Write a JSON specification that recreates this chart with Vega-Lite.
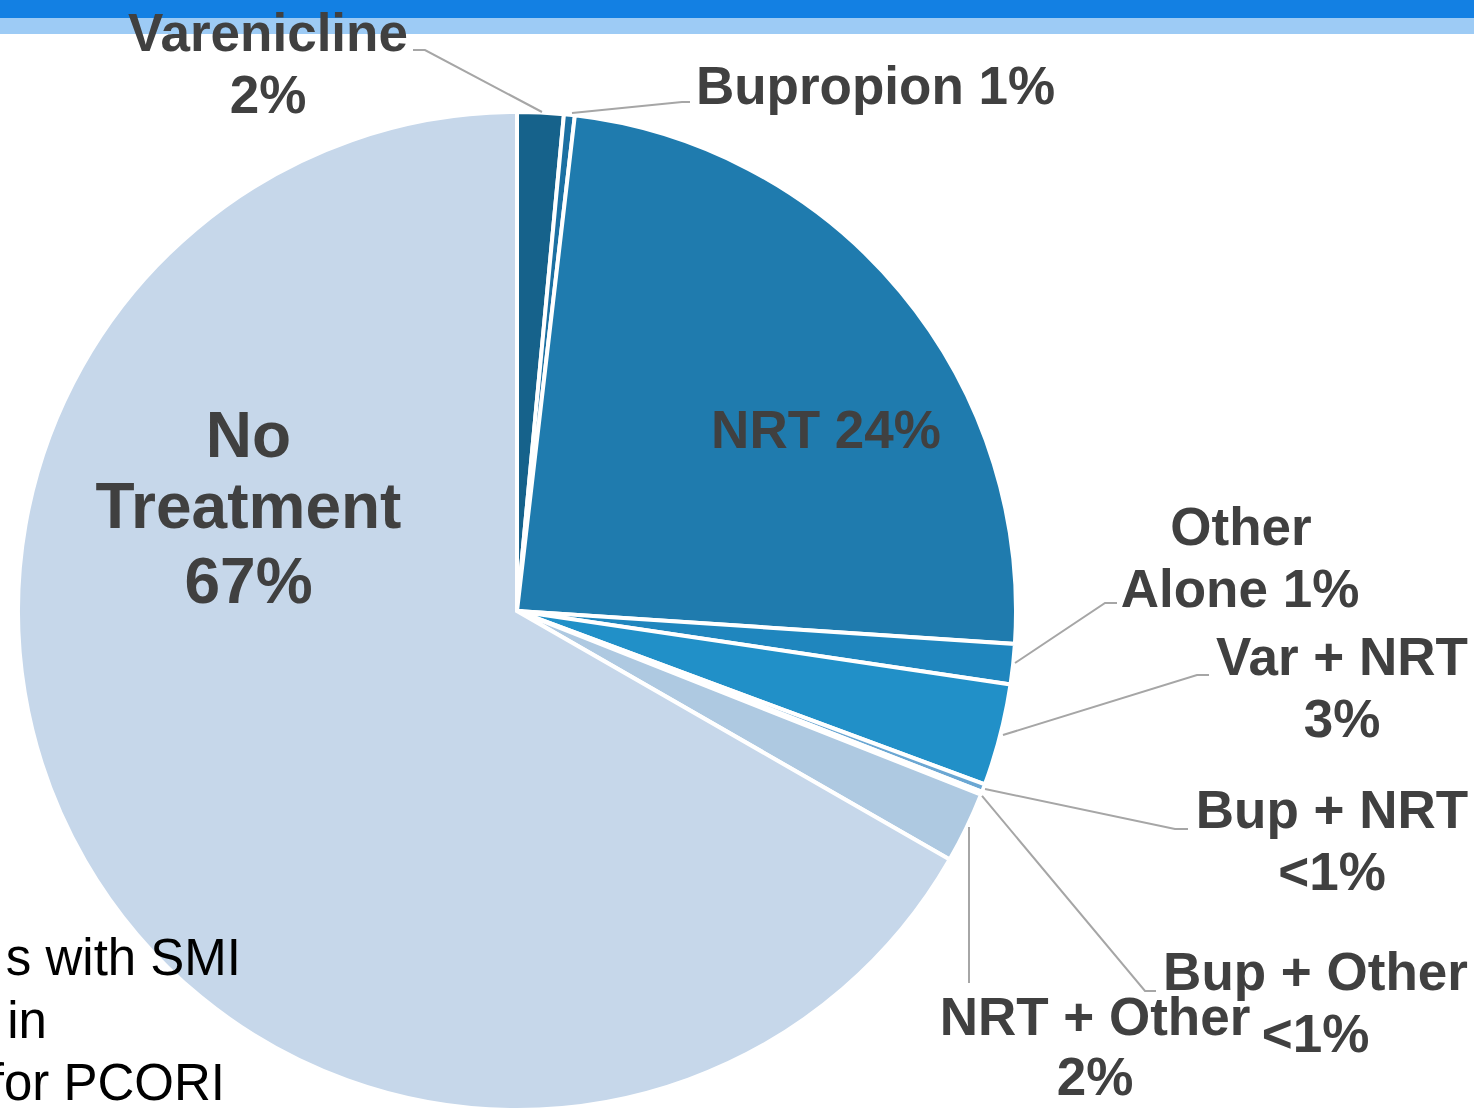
{
  "$schema": "https://vega.github.io/schema/vega-lite/v6.json",
  "width": 1474,
  "height": 1110,
  "padding": 0,
  "autosize": {"type": "none"},
  "background": "#ffffff",
  "config": {"view": {"stroke": null}},
  "datasets": {
    "slices": [
      {"slice": "Varenicline", "pct": 1.5, "k": 1},
      {"slice": "Bupropion", "pct": 0.35, "k": 2},
      {"slice": "NRT", "pct": 24.2, "k": 3},
      {"slice": "Other Alone", "pct": 1.3, "k": 4},
      {"slice": "Var + NRT", "pct": 3.3, "k": 5},
      {"slice": "Bup + NRT", "pct": 0.25, "k": 6},
      {"slice": "Bup + Other", "pct": 0.1, "k": 7},
      {"slice": "NRT + Other", "pct": 2.3, "k": 8},
      {"slice": "No Treatment", "pct": 66.7, "k": 9}
    ],
    "bands": [
      {"band": "dark", "x1": -1.03607, "x2": 1.91784, "y1": 1.22445, "y2": 1.1884},
      {"band": "light", "x1": -1.03607, "x2": 1.91784, "y1": 1.1884, "y2": 1.1563}
    ],
    "leaders": [
      {"id": "Varenicline", "k": 1, "x": -0.2084, "y": 1.1242},
      {"id": "Varenicline", "k": 2, "x": -0.1844, "y": 1.1242},
      {"id": "Varenicline", "k": 3, "x": 0.0501, "y": 1.0},
      {"id": "Bupropion", "k": 1, "x": 0.3467, "y": 1.02},
      {"id": "Bupropion", "k": 2, "x": 0.3307, "y": 1.02},
      {"id": "Bupropion", "k": 3, "x": 0.1102, "y": 0.998},
      {"id": "Other Alone", "k": 1, "x": 1.2024, "y": 0.016},
      {"id": "Other Alone", "k": 2, "x": 1.1784, "y": 0.016},
      {"id": "Other Alone", "k": 3, "x": 0.998, "y": -0.1042},
      {"id": "Var + NRT", "k": 1, "x": 1.3868, "y": -0.1283},
      {"id": "Var + NRT", "k": 2, "x": 1.3627, "y": -0.1283},
      {"id": "Var + NRT", "k": 3, "x": 0.9739, "y": -0.2485},
      {"id": "Bup + NRT", "k": 1, "x": 1.3447, "y": -0.4369},
      {"id": "Bup + NRT", "k": 2, "x": 1.3186, "y": -0.4369},
      {"id": "Bup + NRT", "k": 3, "x": 0.9379, "y": -0.3567},
      {"id": "Bup + Other", "k": 1, "x": 1.2806, "y": -0.7615},
      {"id": "Bup + Other", "k": 2, "x": 1.2585, "y": -0.7615},
      {"id": "Bup + Other", "k": 3, "x": 0.9319, "y": -0.3707},
      {"id": "NRT + Other", "k": 1, "x": 0.9058, "y": -0.7455},
      {"id": "NRT + Other", "k": 2, "x": 0.9058, "y": -0.4329}
    ],
    "labels": [
      {"slice": "Varenicline", "text": "Varenicline", "x": -0.499, "y": 1.1222},
      {"slice": "Varenicline", "text": "2%", "x": -0.499, "y": 0.998},
      {"slice": "Bupropion", "text": "Bupropion 1%", "x": 0.7184, "y": 1.016},
      {"slice": "NRT", "text": "NRT 24%", "x": 0.6192, "y": 0.3267},
      {"slice": "No Treatment", "text": "No", "x": -0.5381, "y": 0.3086},
      {"slice": "No Treatment", "text": "Treatment", "x": -0.5381, "y": 0.1663},
      {"slice": "No Treatment", "text": "67%", "x": -0.5381, "y": 0.016},
      {"slice": "Other Alone", "text": "Other", "x": 1.4509, "y": 0.1323},
      {"slice": "Other Alone", "text": "Alone 1%", "x": 1.4489, "y": 0.008},
      {"slice": "Var + NRT", "text": "Var + NRT", "x": 1.6533, "y": -0.1283},
      {"slice": "Var + NRT", "text": "3%", "x": 1.6533, "y": -0.2525},
      {"slice": "Bup + NRT", "text": "Bup + NRT", "x": 1.6333, "y": -0.4349},
      {"slice": "Bup + NRT", "text": "<1%", "x": 1.6333, "y": -0.5591},
      {"slice": "Bup + Other", "text": "Bup + Other", "x": 1.6002, "y": -0.7595},
      {"slice": "Bup + Other", "text": "<1%", "x": 1.6002, "y": -0.8838},
      {"slice": "NRT + Other", "text": "NRT + Other", "x": 1.1583, "y": -0.8497},
      {"slice": "NRT + Other", "text": "2%", "x": 1.1583, "y": -0.9699}
    ],
    "notes": [
      {"text": "s with SMI", "x": -0.5531, "y": -0.7295},
      {"text": "in", "x": -0.9419, "y": -0.8557},
      {"text": "for PCORI", "x": -0.5852, "y": -0.98}
    ]
  },
  "layer": [
    {
      "data": {"name": "bands"},
      "mark": {"type": "rect"},
      "encoding": {
        "x": {"field": "x1", "type": "quantitative", "scale": {"domain": [-1.03607, 1.91784], "nice": false, "zero": false}, "axis": null},
        "x2": {"field": "x2"},
        "y": {"field": "y1", "type": "quantitative", "scale": {"domain": [-1.0, 1.22445], "nice": false, "zero": false}, "axis": null},
        "y2": {"field": "y2"},
        "color": {"field": "band", "type": "nominal", "scale": {"domain": ["dark", "light"], "range": ["#1380E3", "#9DCBF5"]}, "legend": null}
      }
    },
    {
      "data": {"name": "slices"},
      "mark": {"type": "arc", "outerRadius": 499, "stroke": "#ffffff", "strokeWidth": 4},
      "encoding": {
        "x": {"datum": 0, "type": "quantitative", "scale": {"domain": [-1.03607, 1.91784], "nice": false, "zero": false}, "axis": null},
        "y": {"datum": 0, "type": "quantitative", "scale": {"domain": [-1.0, 1.22445], "nice": false, "zero": false}, "axis": null},
        "theta": {"field": "pct", "type": "quantitative", "stack": true},
        "order": {"field": "k", "type": "quantitative"},
        "fill": {
          "field": "slice", "type": "nominal", "legend": null,
          "scale": {
            "domain": ["Varenicline", "Bupropion", "NRT", "Other Alone", "Var + NRT", "Bup + NRT", "Bup + Other", "NRT + Other", "No Treatment"],
            "range": ["#16628B", "#1C70A2", "#1F7BAE", "#1F86BE", "#2190C8", "#6BA7D3", "#8DB9DE", "#AEC9E1", "#C6D7EA"]
          }
        }
      }
    },
    {
      "data": {"name": "leaders"},
      "mark": {"type": "line", "stroke": "#A6A6A6", "strokeWidth": 2},
      "encoding": {
        "x": {"field": "x", "type": "quantitative", "scale": {"domain": [-1.03607, 1.91784], "nice": false, "zero": false}, "axis": null},
        "y": {"field": "y", "type": "quantitative", "scale": {"domain": [-1.0, 1.22445], "nice": false, "zero": false}, "axis": null},
        "detail": {"field": "id", "type": "nominal"},
        "order": {"field": "k", "type": "quantitative"}
      }
    },
    {
      "data": {"name": "labels"},
      "transform": [{"filter": "datum.slice !== 'No Treatment'"}],
      "mark": {"type": "text", "font": "Liberation Sans", "fontWeight": "bold", "fontSize": 53, "fill": "#404040", "align": "center", "baseline": "alphabetic"},
      "encoding": {
        "x": {"field": "x", "type": "quantitative", "scale": {"domain": [-1.03607, 1.91784], "nice": false, "zero": false}, "axis": null},
        "y": {"field": "y", "type": "quantitative", "scale": {"domain": [-1.0, 1.22445], "nice": false, "zero": false}, "axis": null},
        "text": {"field": "text", "type": "nominal"}
      }
    },
    {
      "data": {"name": "labels"},
      "transform": [{"filter": "datum.slice === 'No Treatment'"}],
      "mark": {"type": "text", "font": "Liberation Sans", "fontWeight": "bold", "fontSize": 64, "fill": "#404040", "align": "center", "baseline": "alphabetic"},
      "encoding": {
        "x": {"field": "x", "type": "quantitative", "scale": {"domain": [-1.03607, 1.91784], "nice": false, "zero": false}, "axis": null},
        "y": {"field": "y", "type": "quantitative", "scale": {"domain": [-1.0, 1.22445], "nice": false, "zero": false}, "axis": null},
        "text": {"field": "text", "type": "nominal"}
      }
    },
    {
      "data": {"name": "notes"},
      "mark": {"type": "text", "font": "Liberation Sans", "fontSize": 51, "fill": "#000000", "align": "right", "baseline": "alphabetic"},
      "encoding": {
        "x": {"field": "x", "type": "quantitative", "scale": {"domain": [-1.03607, 1.91784], "nice": false, "zero": false}, "axis": null},
        "y": {"field": "y", "type": "quantitative", "scale": {"domain": [-1.0, 1.22445], "nice": false, "zero": false}, "axis": null},
        "text": {"field": "text", "type": "nominal"}
      }
    }
  ]
}
